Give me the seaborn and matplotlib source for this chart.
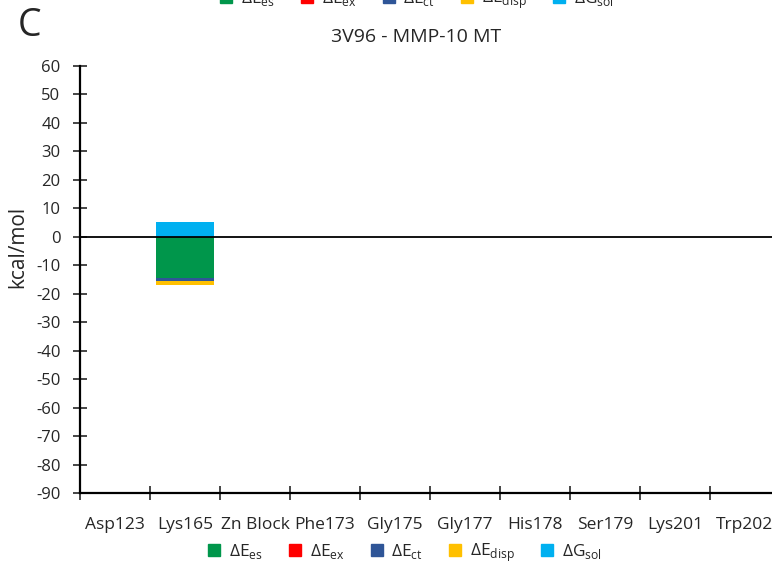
import numpy as np
import matplotlib.pyplot as plt
import matplotlib.patches as mpatches
import seaborn as sns

# residues on the x axis
residues = ["Asp123", "Lys165", "Zn Block", "Phe173", "Gly175",
            "Gly177", "His178", "Ser179", "Lys201", "Trp202"]

# energy terms (kcal/mol), one value per residue
dE_es = [0, -14.5, 0, 0, 0, 0, 0, 0, 0, 0]
dE_ex = [0, 0.0, 0, 0, 0, 0, 0, 0, 0, 0]
dE_ct = [0, -1.0, 0, 0, 0, 0, 0, 0, 0, 0]
dE_disp = [0, -1.5, 0, 0, 0, 0, 0, 0, 0, 0]
dG_sol = [0, 5.2, 0, 0, 0, 0, 0, 0, 0, 0]

term_labels = [r"$\Delta$E$_{\mathregular{es}}$", r"$\Delta$E$_{\mathregular{ex}}$",
               r"$\Delta$E$_{\mathregular{ct}}$", r"$\Delta$E$_{\mathregular{disp}}$",
               r"$\Delta$G$_{\mathregular{sol}}$"]
term_colors = ["#00964B", "#FF0000", "#2F5597", "#FFC000", "#00B0F0"]

sns.set_style("ticks")
plt.rcParams['font.family'] = ['Open Sans', 'DejaVu Sans']
plt.rcParams['mathtext.fontset'] = 'custom'
plt.rcParams['mathtext.rm'] = 'Open Sans'
plt.rcParams['axes.unicode_minus'] = False

fig = plt.figure(figsize=(7.72, 5.66), dpi=100)
ax = fig.add_axes([80 / 772, 1 - 493 / 566, 700 / 772, 427 / 566])

# stack positives upward and negatives downward
pos_base = np.zeros(len(residues))
neg_base = np.zeros(len(residues))
for vals, col in zip([dE_es, dE_ex, dE_ct, dE_disp, dG_sol], term_colors):
    v = np.array(vals, dtype=float)
    base = np.where(v >= 0, pos_base, neg_base)
    sns.barplot(x=residues, y=v, bottom=base, color=col, width=0.83,
                linewidth=0, saturation=1, ax=ax)
    pos_base += np.where(v >= 0, v, 0)
    neg_base += np.where(v < 0, v, 0)

ax.axhline(0, color="black", lw=1.3, zorder=5)

ax.set_ylim(-90, 60)
ax.set_xlim(-0.5, len(residues) - 0.5)
ax.set_yticks(np.arange(-90, 61, 10))
ax.tick_params(axis="y", direction="inout", length=10, width=1.2, labelsize=12, pad=9)
ax.tick_params(axis="x", which="major", length=0, labelsize=12.5, pad=17)
ax.set_xticks(np.arange(-0.5, len(residues), 1), minor=True)
ax.tick_params(axis="x", which="minor", direction="inout", length=10, width=1.2)
sns.despine(ax=ax, top=True, right=True)
for s in ["left", "bottom"]:
    ax.spines[s].set_linewidth(1.6)
    ax.spines[s].set_color("black")

ax.set_ylabel("kcal/mol", fontsize=15)
ax.yaxis.set_label_coords(-0.074, 0.576)
ax.set_xlabel("")
fig.text(416 / 772, 1 - 37 / 566, "3V96 - MMP-10 MT", ha="center", va="center", fontsize=14)
fig.text(18 / 772, 1 - 26 / 566, "C", ha="left", va="center", fontsize=27)

handles = [mpatches.Patch(color=c, label=l) for c, l in zip(term_colors, term_labels)]
for ypos, xc in [(1 - 553 / 566, 405), (1 - 0 / 566, 417)]:
    fig.legend(handles=handles, loc="center", bbox_to_anchor=(xc / 772, ypos),
               ncol=5, frameon=False, fontsize=12.5, handlelength=0.7, handleheight=0.7,
               columnspacing=1.5, handletextpad=0.5)

fig.savefig("out.png", dpi=100)
